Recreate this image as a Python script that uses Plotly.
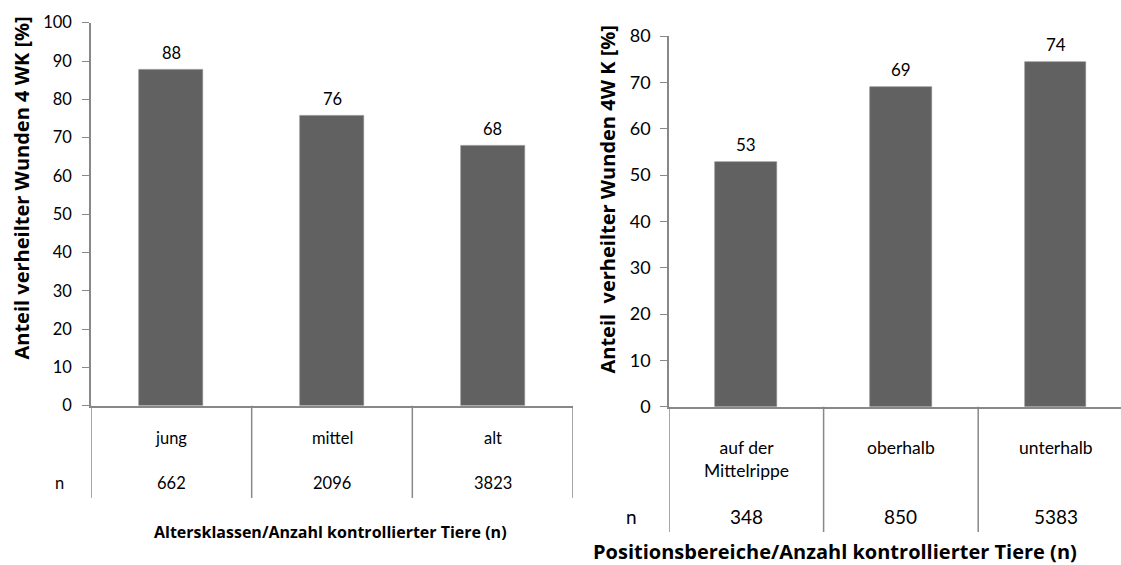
import plotly.graph_objects as go

# ---- data ----
left_categories = ["jung", "mittel", "alt"]
left_values = [87.7, 75.7, 67.9]
left_n = ["662", "2096", "3823"]

right_categories = ["auf der<br>Mittelrippe", "oberhalb", "unterhalb"]
right_values = [52.8, 68.9, 74.3]
right_n = ["348", "850", "5383"]

left_ticks = [0, 10, 20, 30, 40, 50, 60, 70, 80, 90, 100]
right_ticks = [0, 10, 20, 30, 40, 50, 60, 70, 80]

left_ytitle = "Anteil verheilter Wunden 4 WK [%]"
right_ytitle = "Anteil\u00a0\u00a0verheilter Wunden 4W\u00a0K [%]"
left_xtitle = "Altersklassen/Anzahl kontrollierter Tiere (n)"
right_xtitle = "Positionsbereiche/Anzahl kontrollierter Tiere (n)"

W, H = 1121, 565
FONT = "Lato"
TFONT = "Open Sans"
AX = "#888888"
BAR = "#616161"


def px(x):
    return x / W


def py(y):
    return 1 - y / H


def ann(**kw):
    d = dict(showarrow=False, xanchor="center", yanchor="middle")
    d.update(kw)
    return d


fig = go.Figure()
fig.add_trace(go.Bar(x=list(range(3)), y=left_values, marker=dict(color=BAR, line=dict(color="#8a8a8a", width=0.6)),
                     width=0.4, xaxis="x", yaxis="y", showlegend=False, hoverinfo="skip"))
fig.add_trace(go.Bar(x=list(range(3)), y=right_values, marker=dict(color=BAR, line=dict(color="#8a8a8a", width=0.6)),
                     width=0.4, xaxis="x2", yaxis="y2", showlegend=False, hoverinfo="skip"))

fig.update_layout(
    xaxis=dict(domain=[px(91), px(573)], range=[-0.5, 2.5], showticklabels=False, ticks="",
               showline=True, linecolor=AX, linewidth=1.5, showgrid=False, zeroline=False),
    yaxis=dict(domain=[py(405.7), py(22.7)], range=[0, 100], tickvals=left_ticks, ticks="outside",
               ticklen=7, tickcolor=AX, tickwidth=1.2, showline=True, linecolor=AX, linewidth=1.5,
               showgrid=False, zeroline=False, tickfont=dict(family=FONT, size=16.5, color="#000"),
               ticklabelstandoff=7, automargin=False),
    xaxis2=dict(domain=[px(669), 1.0], range=[-0.5, -0.5 + (W - 669) / 154.6], showticklabels=False, ticks="",
                showline=True, linecolor=AX, linewidth=1.5, showgrid=False, zeroline=False, anchor="y2"),
    yaxis2=dict(domain=[py(406.7), py(36)], range=[0, 80], tickvals=right_ticks, ticks="outside",
                ticklen=7, tickcolor=AX, tickwidth=1.2, showline=True, linecolor=AX, linewidth=1.5,
                showgrid=False, zeroline=False, anchor="x2", tickfont=dict(family=FONT, size=18, color="#000"),
                ticklabelstandoff=6, automargin=False),
    width=W, height=H, margin=dict(l=0, r=0, t=0, b=0, autoexpand=False),
    paper_bgcolor="white", plot_bgcolor="white", bargap=0,
    font=dict(family=FONT, color="#000"),
)

shapes = []
annotations = []

for b in [-0.5, 0.5, 1.5, 2.5]:
    shapes.append(dict(type="line", xref="x", yref="paper", x0=b, x1=b, y0=py(405.7), y1=py(498),
                       line=dict(color=AX, width=1.5)))
for b in [-0.5, 0.5, 1.5]:
    shapes.append(dict(type="line", xref="x2", yref="paper", x0=b, x1=b, y0=py(406.7), y1=py(532),
                       line=dict(color=AX, width=1.5)))

# left category labels & n
for i, (c, n) in enumerate(zip(left_categories, left_n)):
    annotations.append(ann(xref="x", yref="paper", x=i, y=py(438), text=c, font=dict(family=FONT, size=16.5)))
    annotations.append(ann(xref="x", yref="paper", x=i, y=py(483), text=n, font=dict(family=FONT, size=16.5)))
annotations.append(ann(xref="paper", yref="paper", x=px(59), y=py(483), text="n", font=dict(family=FONT, size=16.5)))

# right category labels & n
for i, (c, n) in enumerate(zip(right_categories, right_n)):
    annotations.append(ann(xref="x2", yref="paper", x=i, y=py(435), text=c, yanchor="top",
                           font=dict(family=FONT, size=17.5)))
    annotations.append(ann(xref="x2", yref="paper", x=i, y=py(516), text=n, font=dict(family=FONT, size=19)))
annotations.append(ann(xref="paper", yref="paper", x=px(631), y=py(516), text="n", font=dict(family=FONT, size=19)))

# bar value labels
for i, v in enumerate(left_values):
    annotations.append(ann(xref="x", yref="y", x=i, y=v, text=f"{v:.0f}", font=dict(family=FONT, size=16.5),
                           yanchor="bottom", yshift=5))
for i, v in enumerate(right_values):
    annotations.append(ann(xref="x2", yref="y2", x=i, y=v, text=f"{v:.0f}", font=dict(family=FONT, size=17),
                           yanchor="bottom", yshift=5))

# axis titles
annotations.append(ann(xref="paper", yref="paper", x=px(21), y=py(188.5), text=f"<b>{left_ytitle}</b>",
                       textangle=-90, font=dict(family=TFONT, size=20)))
annotations.append(ann(xref="paper", yref="paper", x=px(607), y=py(199.5), text=f"<b>{right_ytitle}</b>",
                       textangle=-90, font=dict(family=TFONT, size=20)))
annotations.append(ann(xref="paper", yref="paper", x=px(330), y=py(531.7), text=f"<b>{left_xtitle}</b>",
                       font=dict(family=TFONT, size=16)))
annotations.append(ann(xref="paper", yref="paper", x=px(835), y=py(551), text=f"<b>{right_xtitle}</b>",
                       font=dict(family=TFONT, size=20)))

fig.update_layout(shapes=shapes, annotations=annotations)
fig.write_html("out.html", config={"displayModeBar": False},
               post_script="document.body.style.margin='0';document.body.style.overflow='hidden';")
